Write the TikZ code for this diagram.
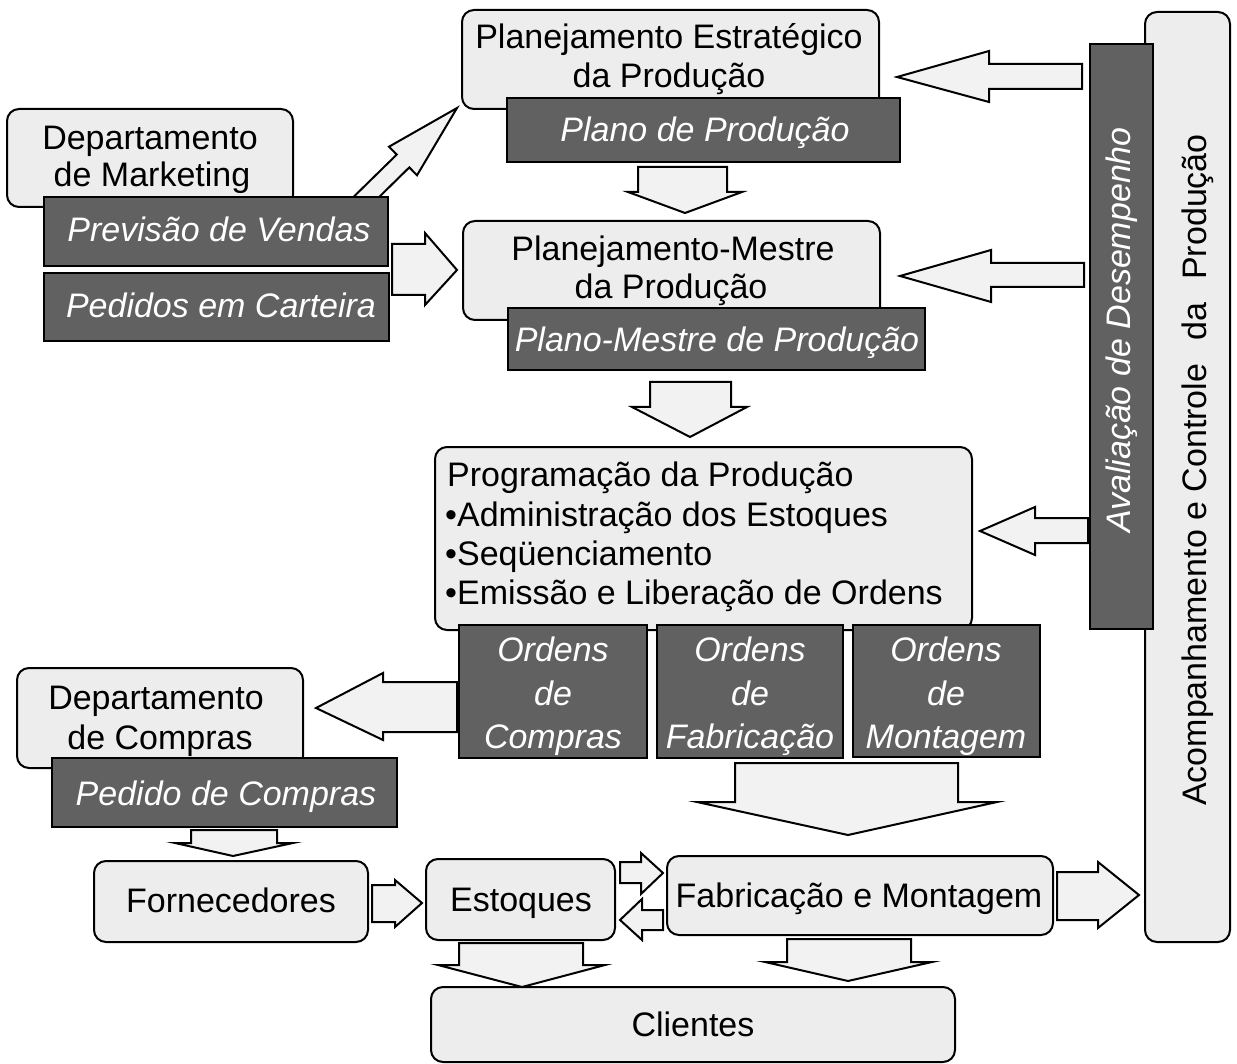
\documentclass[tikz,border=0pt]{standalone}
\usepackage{fontspec}
\setmainfont{Liberation Sans}
\usetikzlibrary{fit}
\tikzset{
  lbox/.style={draw, line width=2pt, rounded corners=12pt, fill=black!7, inner sep=0pt},
  dbox/.style={draw, line width=2pt, fill=black!62, inner sep=0pt},
  txt/.style={font=\fontsize{34}{40}\selectfont, inner sep=0pt, anchor=base},
  dtxt/.style={txt, font=\fontsize{34}{40}\selectfont\itshape, text=white},
  barrow/.style={draw, line width=2pt, fill=black!5, line join=miter},
}
\begin{document}
\begin{tikzpicture}[x=1pt,y=-1pt]
\fill[white] (0,0) rectangle (1237,1064);
\useasboundingbox (0,0) rectangle (1237,1064);

% right column
\node[lbox, fit={(1145,12) (1230,942)}] (ac) {};
\node[dbox, fit={(1090,44) (1153,629)}] (ad) {};
\node[txt, anchor=center, rotate=90] (ac-t) at (1198,470) {Acompanhamento e Controle\hspace{0.4em} da\hspace{0.4em} Produção};
\node[dtxt, anchor=center, rotate=90] (ad-t) at (1122,330) {Avaliação de Desempenho};

% feedback arrows
\draw[barrow] (1082,64) -- (989,64) -- (989,51) -- (897,77) -- (989,102) -- (989,89) -- (1082,89) -- cycle;
\draw[barrow] (1084,263) -- (991,263) -- (991,250) -- (900,276) -- (991,302) -- (991,287) -- (1084,287) -- cycle;
\draw[barrow] (1088,518) -- (1035,518) -- (1035,507) -- (980,531) -- (1035,555) -- (1035,543) -- (1088,543) -- cycle;

% strategic planning
\node[lbox, fit={(462,10) (879,109)}] (pe) {};
\node[txt] (pe-t1) at (669,49) {Planejamento Estratégico};
\node[txt] (pe-t2) at (669,88) {da Produção};
\node[dbox, fit={(507,98) (900,162)}] (pp) {};
\node[dtxt] (pp-t) at (705,142) {Plano de Produção};
\draw[barrow] (638,167) -- (638,192) -- (628,192) -- (685,213) -- (742,192) -- (727,192) -- (727,167) -- cycle;

% master planning
\node[lbox, fit={(463,221) (880,320)}] (pm) {};
\node[txt] (pm-t1) at (673,261) {Planejamento-Mestre};
\node[txt] (pm-t2) at (671,299) {da Produção};
\node[dbox, fit={(508,308) (925,370)}] (pmp) {};
\node[dtxt] (pmp-t) at (717,352) {Plano-Mestre de Produção};
\draw[barrow] (650,382) -- (650,407) -- (632,407) -- (690,437) -- (747,407) -- (731,407) -- (731,382) -- cycle;

% marketing
\draw[barrow] (350.4,200) -- (396.7,154.6) -- (389,146.7) -- (457,108) -- (417,175.3) -- (409.3,167.4) -- (376.1,200) -- cycle;
\node[lbox, fit={(7,109) (293,207)}] (mk) {};
\node[txt] (mk-t1) at (150,150) {Departamento};
\node[txt] (mk-t2) at (152,187) {de Marketing};
\node[dbox, fit={(44,197) (388,266)}] (pv) {};
\node[dtxt] (pv-t) at (219,242) {Previsão de Vendas};
\node[dbox, fit={(44,273) (389,341)}] (pc) {};
\node[dtxt] (pc-t) at (221,318) {Pedidos em Carteira};
\draw[barrow] (392,244) -- (425,244) -- (425,233) -- (457,270) -- (425,305) -- (425,295) -- (392,295) -- cycle;

% programming
\node[lbox, fit={(435,447) (972,630)}] (pr) {};
\node[txt, anchor=base west] (pr-t1) at (447,486) {Programação da Produção};
\node[txt, anchor=base west] (pr-t2) at (445,526) {•Administração dos Estoques};
\node[txt, anchor=base west] (pr-t3) at (445,565) {•Seqüenciamento};
\node[txt, anchor=base west] (pr-t4) at (445,604) {•Emissão e Liberação de Ordens};

\node[dbox, fit={(459,625) (647,758)}] (oc) {};
\node[dbox, fit={(657,625) (843,758)}] (of) {};
\node[dbox, fit={(853,625) (1040,757)}] (om) {};
\foreach \n/\x/\w in {oc/553/Compras, of/750/Fabricação, om/946/Montagem}{
  \node[dtxt] (\n-t1) at (\x,661) {Ordens};
  \node[dtxt] (\n-t2) at (\x,705) {de};
  \node[dtxt] (\n-t3) at (\x,748) {\w};
}
\draw[barrow] (457,682) -- (383,682) -- (383,673) -- (316,708) -- (383,740) -- (383,732) -- (457,732) -- cycle;
\draw[barrow] (735,763) -- (735,802) -- (697,802) -- (848,835) -- (997,802) -- (958,802) -- (958,763) -- cycle;

% purchasing
\node[lbox, fit={(17,668) (303,768)}] (dc) {};
\node[txt] (dc-t1) at (156,709) {Departamento};
\node[txt] (dc-t2) at (160,749) {de Compras};
\node[dbox, fit={(52,758) (397,827)}] (pdc) {};
\node[dtxt] (pdc-t) at (226,805) {Pedido de Compras};
\draw[barrow] (191,830) -- (191,843) -- (175,843) -- (233,856) -- (293,843) -- (277,843) -- (277,830) -- cycle;

% bottom row
\node[lbox, fit={(94,861) (368,942)}] (fo) {};
\node[txt] (fo-t) at (231,912) {Fornecedores};
\draw[barrow] (372,885) -- (395,885) -- (395,880) -- (422,903) -- (395,927) -- (395,922) -- (372,922) -- cycle;
\node[lbox, fit={(426,859) (615,940)}] (es) {};
\node[txt] (es-t) at (521,911) {Estoques};
\draw[barrow] (620,862) -- (641,862) -- (641,853) -- (663,873) -- (641,894) -- (641,883) -- (620,883) -- cycle;
\draw[barrow] (663,910) -- (642,910) -- (642,899) -- (620,920) -- (642,940) -- (642,930) -- (663,930) -- cycle;
\node[lbox, fit={(667,856) (1053,935)}] (fm) {};
\node[txt] (fm-t) at (859,907) {Fabricação e Montagem};
\draw[barrow] (1057,872) -- (1098,872) -- (1098,862) -- (1139,895) -- (1098,928) -- (1098,920) -- (1057,920) -- cycle;
\draw[barrow] (459,943) -- (459,965) -- (438,965) -- (522,987) -- (605,965) -- (583,965) -- (583,943) -- cycle;
\draw[barrow] (787,939) -- (787,962) -- (765,962) -- (848,981) -- (932,962) -- (911,962) -- (911,939) -- cycle;
\node[lbox, fit={(431,987) (955,1062)}] (cl) {};
\node[txt] (cl-t) at (693,1036) {Clientes};
\end{tikzpicture}
\end{document}
